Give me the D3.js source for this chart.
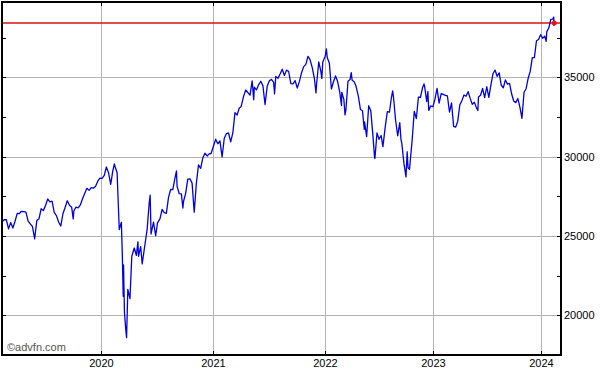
<!DOCTYPE html>
<html>
<head>
<meta charset="utf-8">
<script src="https://cdn.jsdelivr.net/npm/d3@7"></script>
<style>
  body { margin: 0; background: #fff; }
  text { font-family: "Liberation Sans", Arial, sans-serif; }
</style>
</head>
<body>
<div id="chart"></div>
<script>
// weekly-ish closes
const dates = [
  '2019-02-15','2019-02-22','2019-03-01','2019-03-08','2019-03-15','2019-03-22','2019-03-29','2019-04-05','2019-04-12','2019-04-18',
  '2019-04-26','2019-05-03','2019-05-10','2019-05-17','2019-05-24','2019-05-31','2019-06-07','2019-06-14','2019-06-21','2019-06-28',
  '2019-07-05','2019-07-12','2019-07-19','2019-07-26','2019-08-02','2019-08-09','2019-08-16','2019-08-23','2019-08-30','2019-09-06',
  '2019-09-13','2019-09-20','2019-09-27','2019-10-02','2019-10-04','2019-10-11','2019-10-18','2019-10-25','2019-11-01','2019-11-08',
  '2019-11-15','2019-11-22','2019-11-29','2019-12-06','2019-12-13','2019-12-20','2019-12-27',
  '2020-01-03','2020-01-10','2020-01-17','2020-01-24','2020-01-31','2020-02-07','2020-02-12','2020-02-14','2020-02-21','2020-02-28',
  '2020-03-06','2020-03-09','2020-03-12','2020-03-13','2020-03-16','2020-03-20','2020-03-23','2020-03-27','2020-04-03','2020-04-09',
  '2020-04-17','2020-04-24','2020-04-29','2020-05-01','2020-05-08','2020-05-13','2020-05-22','2020-05-29','2020-06-05','2020-06-08',
  '2020-06-11','2020-06-19','2020-06-26','2020-07-02','2020-07-10','2020-07-17','2020-07-24','2020-07-31','2020-08-07','2020-08-14',
  '2020-08-21','2020-08-28','2020-09-02','2020-09-04','2020-09-11','2020-09-18','2020-09-23','2020-09-25','2020-10-02','2020-10-09',
  '2020-10-16','2020-10-23','2020-10-30','2020-11-06','2020-11-13','2020-11-20','2020-11-27','2020-12-04','2020-12-11','2020-12-18',
  '2020-12-24','2020-12-31',
  '2021-01-08','2021-01-15','2021-01-22','2021-01-29','2021-02-05','2021-02-12','2021-02-19','2021-02-26','2021-03-05','2021-03-12',
  '2021-03-19','2021-03-26','2021-04-01','2021-04-09','2021-04-16','2021-04-23','2021-04-30','2021-05-07','2021-05-12','2021-05-14',
  '2021-05-21','2021-05-28','2021-06-04','2021-06-11','2021-06-18','2021-06-25','2021-07-02','2021-07-09','2021-07-16','2021-07-19',
  '2021-07-23','2021-07-30','2021-08-06','2021-08-13','2021-08-20','2021-08-27','2021-09-03','2021-09-10','2021-09-17','2021-09-24',
  '2021-10-01','2021-10-08','2021-10-15','2021-10-22','2021-10-29','2021-11-05','2021-11-12','2021-11-19','2021-11-26','2021-12-01',
  '2021-12-03','2021-12-10','2021-12-17','2021-12-20','2021-12-23','2021-12-31',
  '2022-01-04','2022-01-07','2022-01-14','2022-01-21','2022-01-28','2022-02-04','2022-02-11','2022-02-18','2022-02-24','2022-02-25',
  '2022-03-04','2022-03-08','2022-03-11','2022-03-18','2022-03-25','2022-03-29','2022-04-01','2022-04-08','2022-04-14','2022-04-22',
  '2022-04-29','2022-05-06','2022-05-12','2022-05-13','2022-05-20','2022-05-27','2022-06-03','2022-06-10','2022-06-16','2022-06-17',
  '2022-06-24','2022-07-01','2022-07-08','2022-07-14','2022-07-22','2022-07-29','2022-08-05','2022-08-12','2022-08-16','2022-08-19',
  '2022-08-26','2022-09-02','2022-09-09','2022-09-13','2022-09-16','2022-09-23','2022-09-30','2022-10-04','2022-10-07','2022-10-12',
  '2022-10-14','2022-10-21','2022-10-28','2022-11-04','2022-11-11','2022-11-18','2022-11-25','2022-11-30','2022-12-02','2022-12-09',
  '2022-12-13','2022-12-16','2022-12-23','2022-12-30',
  '2023-01-06','2023-01-13','2023-01-20','2023-01-27','2023-02-03','2023-02-10','2023-02-17','2023-02-24','2023-03-03','2023-03-10',
  '2023-03-17','2023-03-24','2023-03-31','2023-04-06','2023-04-14','2023-04-21','2023-04-28','2023-05-05','2023-05-12','2023-05-19',
  '2023-05-26','2023-05-31','2023-06-02','2023-06-09','2023-06-16','2023-06-23','2023-06-30','2023-07-07','2023-07-14','2023-07-21',
  '2023-07-28','2023-08-04','2023-08-11','2023-08-18','2023-08-25','2023-09-01','2023-09-08','2023-09-15','2023-09-22','2023-09-29',
  '2023-10-06','2023-10-13','2023-10-20','2023-10-27','2023-11-03','2023-11-10','2023-11-17','2023-11-24','2023-12-01','2023-12-08',
  '2023-12-15','2023-12-22','2023-12-29',
  '2024-01-05','2024-01-12','2024-01-17','2024-01-19','2024-01-26','2024-02-02','2024-02-09','2024-02-12','2024-02-13','2024-02-14'
]

const closes = [
  25883,26031,26026,25450,25849,25502,25929,26425,26412,26559,
  26543,26505,25942,25764,25586,24815,25984,26090,26719,26600,
  26922,27332,27154,27192,26485,26287,25886,25628,26403,26797,
  27220,26935,26820,26078,26573,26817,26770,26958,27347,27681,
  28005,27876,28051,28015,28135,28455,28645,
  28634,28823,29348,28989,28256,29102,29551,29398,28992,25409,
  25864,23851,21200,23186,20188,19174,18592,21637,21053,23719,
  24242,23775,24634,23724,24331,23247,24465,25383,27111,27572,
  25128,25871,25016,25827,26075,26672,26470,26428,27433,27931,
  27930,28654,29100,28133,27666,27657,26763,27174,27683,28587,
  28606,28336,26502,28323,29480,29263,29910,30218,30046,30179,
  30200,30606,
  31098,30814,30997,29983,31148,31458,31494,30932,31496,32779,
  32628,33072,33153,33801,34201,34043,33875,34778,33587,34382,
  34208,34529,34756,34480,33290,34433,34786,34870,34687,33962,
  35061,34935,35208,35515,35120,35456,35369,34608,34584,34798,
  34326,34746,35295,35677,35820,36328,36100,35602,34899,34022,
  34580,35971,35365,34932,35950,36338,
  36800,36231,35912,34265,34725,35089,34738,34079,33224,34059,
  33615,32633,32945,34755,34862,35294,34818,34721,34451,33811,
  32977,32899,31730,32197,31262,33213,32900,31393,29927,29888,
  31501,31097,31338,30630,31899,32845,32803,33761,34152,33706,
  32283,31318,32151,31105,30822,29590,28726,30316,29297,29210,
  29635,31083,32861,32403,33748,33746,34347,34590,34430,33477,
  34109,32920,33204,33147,
  33631,34303,33375,33978,33926,33869,33827,32817,33391,31910,
  31862,32238,33274,33485,33886,33809,34098,33674,33300,33427,
  33093,32908,33762,33876,34299,33727,34408,33734,34509,35228,
  35459,35066,35281,34500,34346,34838,34576,34618,33964,33507,
  33407,33670,33127,32418,34061,34283,34947,35390,36245,36248,
  37305,37385,37690,
  37466,37593,37266,37864,38109,38654,38671,38797,38272,38424
]

const yearTicks = ['2020', '2021', '2022', '2023', '2024']
const priceLabels = [20000, 25000, 30000, 35000]
const minorTicks = [17500, 22500, 27500, 32500, 37500]
const lastPrice = 38424

const width = 600
const height = 371
const plot = { left: 2, right: 561, top: 2, bottom: 355 }

const parse = d3.timeParse('%Y-%m-%d')
const series = dates.map((d, i) => ({ date: parse(d), value: closes[i] }))

const svg = d3.select('#chart')
  .append('svg')
  .attr('width', width)
  .attr('height', height)

// x axis is stretched a bit unevenly on the original, so map year starts
const x = d3.scaleTime()
  .domain([parse('2019-02-15'), parse('2020-01-01'), parse('2021-01-01'), parse('2022-01-01'),
    parse('2023-01-01'), parse('2024-01-01'), parse('2024-03-08')])
  .range([plot.left, 101.5, 213.5, 325.5, 433.5, 541.5, plot.right])

const y = d3.scaleLinear()
  .domain([17500, 39750])
  .range([plot.bottom, plot.top])

//grid
const grid = svg.append('g')
  .attr('stroke', '#b4b4b4')
  .attr('stroke-width', 1)

grid.selectAll('line.h')
  .data(priceLabels)
  .join('line')
  .attr('class', 'h')
  .attr('x1', plot.left)
  .attr('x2', plot.right)
  .attr('y1', d => Math.round(y(d)) + 0.5)
  .attr('y2', d => Math.round(y(d)) + 0.5)

grid.selectAll('line.v')
  .data(yearTicks)
  .join('line')
  .attr('class', 'v')
  .attr('x1', d => x(parse(d + '-01-01')))
  .attr('x2', d => x(parse(d + '-01-01')))
  .attr('y1', plot.top)
  .attr('y2', plot.bottom)

//last price line
svg.append('line')
  .attr('x1', plot.left)
  .attr('x2', plot.right)
  .attr('y1', y(lastPrice))
  .attr('y2', y(lastPrice))
  .attr('stroke', '#dd1111')
  .attr('stroke-width', 1.5)

//price line
const line = d3.line()
  .x(d => x(d.date))
  .y(d => y(d.value))

svg.append('path')
  .datum(series)
  .attr('fill', 'none')
  .attr('stroke', '#0000e0')
  .attr('stroke-width', 1.3)
  .attr('stroke-linejoin', 'round')
  .attr('d', line)

const last = series[series.length - 1]
svg.append('circle')
  .attr('cx', x(last.date))
  .attr('cy', y(last.value))
  .attr('r', 2.5)
  .attr('fill', '#ee1111')

//frame
svg.append('rect')
  .attr('x', plot.left)
  .attr('y', plot.top)
  .attr('width', plot.right - plot.left)
  .attr('height', plot.bottom - plot.top)
  .attr('fill', 'none')
  .attr('stroke', '#000')
  .attr('stroke-width', 2)

//small inward ticks
const ticks = svg.append('g').attr('stroke', '#000').attr('stroke-width', 1)
const allY = priceLabels.concat(minorTicks)
ticks.selectAll('line.l')
  .data(allY)
  .join('line')
  .attr('x1', plot.left)
  .attr('x2', plot.left + 4)
  .attr('y1', d => Math.round(y(d)) + 0.5)
  .attr('y2', d => Math.round(y(d)) + 0.5)
ticks.selectAll('line.r')
  .data(allY)
  .join('line')
  .attr('class', 'r')
  .attr('x1', plot.right - 4)
  .attr('x2', plot.right)
  .attr('y1', d => Math.round(y(d)) + 0.5)
  .attr('y2', d => Math.round(y(d)) + 0.5)
ticks.selectAll('line.b')
  .data(yearTicks)
  .join('line')
  .attr('class', 'b')
  .attr('x1', d => x(parse(d + '-01-01')))
  .attr('x2', d => x(parse(d + '-01-01')))
  .attr('y1', plot.bottom - 4)
  .attr('y2', plot.bottom)
ticks.selectAll('line.t')
  .data(yearTicks)
  .join('line')
  .attr('class', 't')
  .attr('x1', d => x(parse(d + '-01-01')))
  .attr('x2', d => x(parse(d + '-01-01')))
  .attr('y1', plot.top)
  .attr('y2', plot.top + 4)

//labels
svg.append('g')
  .selectAll('text')
  .data(priceLabels)
  .join('text')
  .attr('x', plot.right + 3)
  .attr('y', d => y(d) + 4)
  .attr('font-size', 11)
  .attr('fill', '#000')
  .text(d => d)

svg.append('g')
  .selectAll('text')
  .data(yearTicks)
  .join('text')
  .attr('x', d => x(parse(d + '-01-01')))
  .attr('y', 367)
  .attr('text-anchor', 'middle')
  .attr('font-size', 11)
  .attr('fill', '#000')
  .text(d => d)

svg.append('text')
  .attr('x', 7)
  .attr('y', 351)
  .attr('font-size', 11)
  .attr('fill', '#555')
  .text('©advfn.com')
</script>
</body>
</html>
